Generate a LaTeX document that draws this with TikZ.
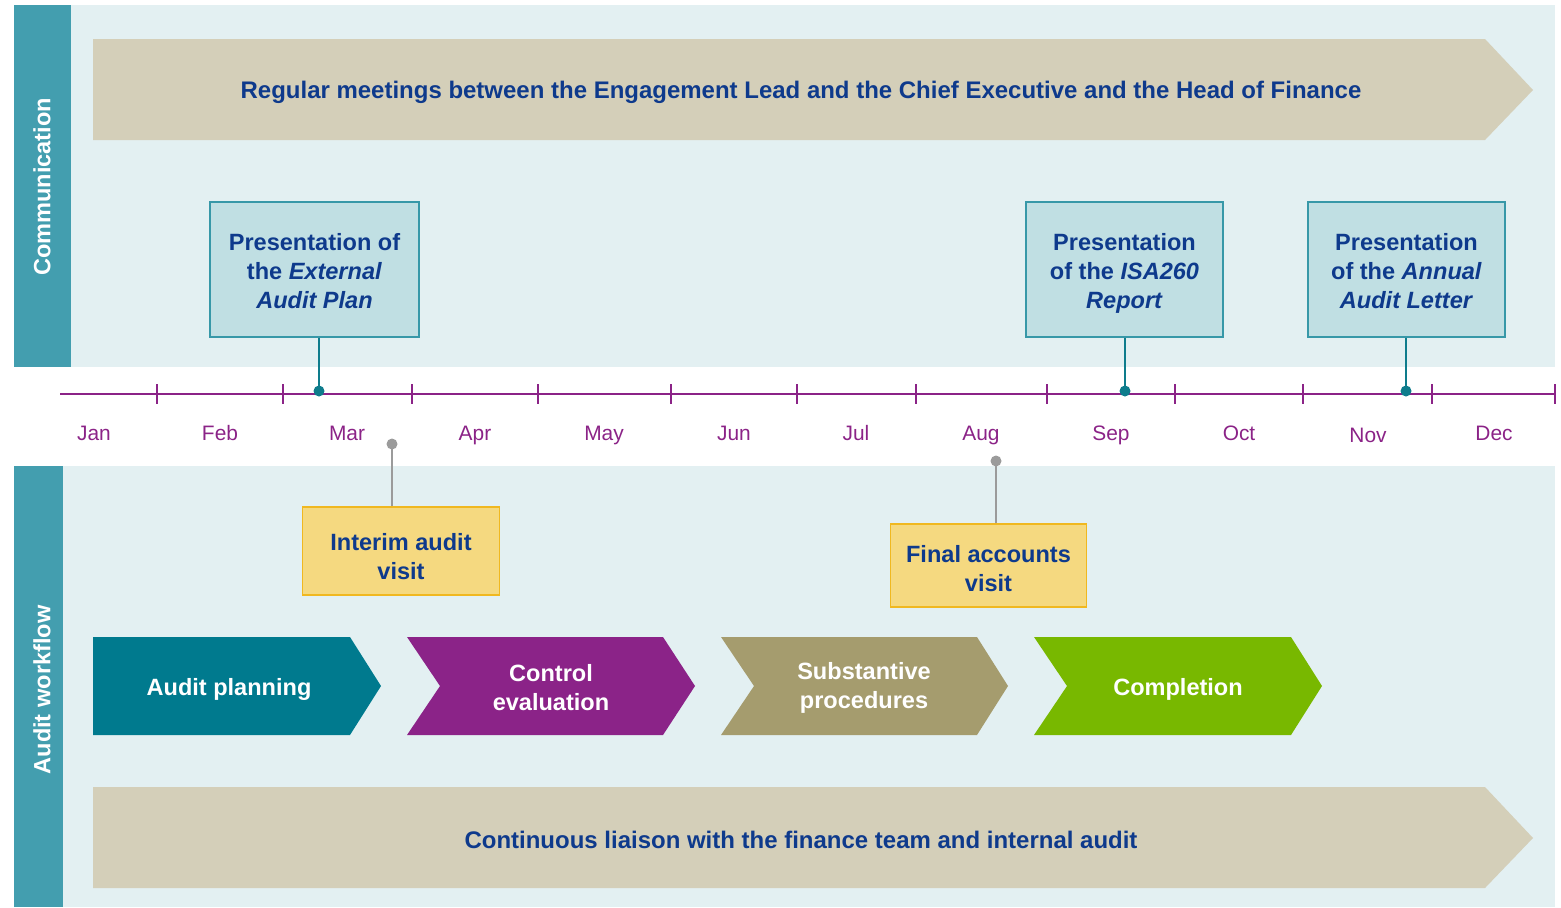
\documentclass[tikz,border=0pt]{standalone}
\usepackage{fontspec}
\setmainfont{Liberation Sans}

\definecolor{panelbg}{HTML}{E3F0F2}
\definecolor{sidebar}{HTML}{439EAF}
\definecolor{bannerc}{HTML}{D4CFB9}
\definecolor{talkfill}{HTML}{C0DFE3}
\definecolor{talkedge}{HTML}{3798A8}
\definecolor{inkblue}{HTML}{0E3A8C}
\definecolor{monthc}{HTML}{8B2387}
\definecolor{visitfill}{HTML}{F5D980}
\definecolor{visitedge}{HTML}{F0B820}
\definecolor{dotteal}{HTML}{0E7C8C}
\definecolor{dotgray}{HTML}{9B9B9B}
\definecolor{stepteal}{HTML}{007A8E}
\definecolor{steppurple}{HTML}{8B2388}
\definecolor{stepkhaki}{HTML}{A59C6E}
\definecolor{stepgreen}{HTML}{78B800}

\begin{document}
\begin{tikzpicture}[x=0.02cm, y=-0.02cm,
    bold/.style={font=\fontsize{13.4}{16.5}\selectfont\bfseries, align=center, inner sep=0pt},
    sidelabel/.style={bold, text=white, rotate=90},
    bannertext/.style={bold, font=\fontsize{13.65}{16.5}\selectfont\bfseries, text=inkblue},
    talk/.style={fill=talkfill, draw=talkedge, line width=0.8pt, minimum height=2.7cm},
    visit/.style={fill=visitfill, draw=visitedge, line width=0.8pt, minimum width=3.93cm},
    boxtext/.style={bold, text=inkblue},
    steptext/.style={bold, text=white},
    month/.style={font=\fontsize{11.9}{14}\selectfont, text=monthc, anchor=base},
    axis/.style={monthc, line width=1.1pt},
    talkline/.style={dotteal, line width=1.1pt},
    visitline/.style={dotgray, line width=1.1pt}]
  \useasboundingbox (0,0) rectangle (1561,907);

  % Panels
  \fill[panelbg] (14,5) rectangle (1555,367);
  \fill[sidebar] (14,5) rectangle (71,367);
  \fill[panelbg] (14,466) rectangle (1555,907);
  \fill[sidebar] (14,466) rectangle (63,907);
  \node[sidelabel] (comm) at (42,187) {Communication};
  \node[sidelabel] (flow) at (42,690) {Audit workflow};

  % Banners
  \fill[bannerc] (93,39) -- (1485,39) -- (1533,90) -- (1485,140) -- (93,140) -- cycle;
  \node[bannertext] (meet) at (801,92) {Regular meetings between the Engagement Lead and the Chief Executive and the Head of Finance};
  \fill[bannerc] (93,787) -- (1485,787) -- (1533,838) -- (1485,888) -- (93,888) -- cycle;
  \node[bannertext] (liaison) at (801,840) {Continuous liaison with the finance team and internal audit};

  % Timeline
  \draw[axis] (60,394) -- (1555,394);
  \foreach \x in {157,283,412,538,671,797,916,1047,1175,1303,1432,1555}
    \draw[axis] (\x,384) -- (\x,404);
  \foreach \x/\m/\y in {94/Jan/440,220/Feb/440,347/Mar/440,475/Apr/440,604/May/440,734/Jun/440,856/Jul/440,981/Aug/440,1111/Sep/440,1239/Oct/440,1368/Nov/442,1494/Dec/440}
    \node[month] (m-\m) at (\x,\y) {\m};

  % Presentations
  \node[talk, minimum width=4.18cm] (plan) at (314.5,269.5) {};
  \node[talk, minimum width=3.94cm] (isa) at (1124.5,269.5) {};
  \node[talk, minimum width=3.94cm] (letter) at (1406.5,269.5) {};
  \node[boxtext] (plan-t) at ([yshift=-0.04cm]plan.center) {Presentation of\\the \textit{External}\\\textit{Audit Plan}};
  \node[boxtext] (isa-t) at ([yshift=-0.08cm]isa.center) {Presentation\\of the \textit{ISA260}\\\textit{Report}};
  \node[boxtext] (letter-t) at ([yshift=-0.04cm]letter.center) {Presentation\\of the \textit{Annual}\\\textit{Audit Letter}};
  \coordinate (d-plan) at (319,391);
  \coordinate (d-isa) at (1125,391);
  \coordinate (d-letter) at (1406,391);
  \foreach \b in {plan,isa,letter} {
    \draw[talkline] (\b.south -| d-\b) -- (d-\b);
    \fill[dotteal] (d-\b) circle (0.11cm);
  }

  % Visits
  \node[visit, minimum height=1.76cm] (interim) at (401,551) {};
  \node[visit, minimum height=1.66cm] (final) at (988.5,565.5) {};
  \node[boxtext] (interim-t) at ([yshift=-0.12cm]interim.center) {Interim audit\\visit};
  \node[boxtext] (final-t) at ([yshift=-0.06cm]final.center) {Final accounts\\visit};
  \coordinate (d-interim) at (392,444);
  \coordinate (d-final) at (996,461);
  \foreach \b in {interim,final} {
    \draw[visitline] (\b.north -| d-\b) -- (d-\b);
    \fill[dotgray] (d-\b) circle (0.11cm);
  }

  % Workflow steps
  \fill[stepteal] (93,637) -- (350,637) -- (381,686) -- (350,735) -- (93,735) -- cycle;
  \node[steptext] (planning) at (229,689) {Audit planning};
  \fill[steppurple] (407,637) -- (663,637) -- (695,686) -- (663,735) -- (407,735) -- (440,686) -- cycle;
  \node[steptext] (control) at (551,688) {Control\\evaluation};
  \fill[stepkhaki] (721,637) -- (977,637) -- (1008,686) -- (977,735) -- (721,735) -- (754,686) -- cycle;
  \node[steptext] (subst) at (864,688) {Substantive\\procedures};
  \fill[stepgreen] (1034,637) -- (1291,637) -- (1322,686) -- (1291,735) -- (1034,735) -- (1067,686) -- cycle;
  \node[steptext] (complete) at (1178,689) {Completion};

\end{tikzpicture}
\end{document}
